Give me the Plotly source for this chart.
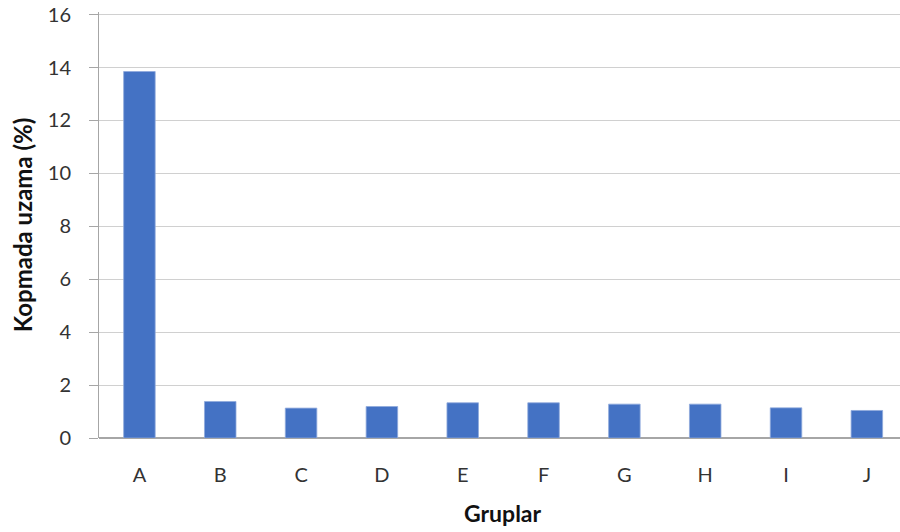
import plotly.graph_objects as go

categories = ["A", "B", "C", "D", "E", "F", "G", "H", "I", "J"]
values = [13.85, 1.38, 1.13, 1.19, 1.33, 1.33, 1.28, 1.28, 1.14, 1.04]
y_ticks = [0, 2, 4, 6, 8, 10, 12, 14, 16]

font_family = "Lato, 'Open Sans', sans-serif"

fig = go.Figure(go.Bar(
    x=list(range(len(categories))),
    y=values,
    marker=dict(color="#4472C4", line=dict(color="#8FAADC", width=0.8)),
    width=0.39,
))

fig.update_layout(
    width=900, height=532,
    margin=dict(l=99, r=0, t=12, b=94, autoexpand=False),
    paper_bgcolor="white", plot_bgcolor="white",
    showlegend=False,
    font=dict(family=font_family, color="#333333"),
    xaxis=dict(
        tickmode="array",
        tickvals=list(range(len(categories))),
        ticktext=categories,
        range=[-0.5, 9.41],
        showgrid=False,
        showline=False,
        ticks="",
        ticklabelstandoff=23,
        tickfont=dict(size=20, color="#333333"),
        zeroline=False,
        automargin=False,
    ),
    yaxis=dict(
        range=[0, 16.1],
        tickvals=y_ticks,
        showgrid=True,
        gridcolor="#D0D0D0",
        gridwidth=1,
        showline=True,
        linecolor="#A6A6A6",
        linewidth=1,
        ticks="outside",
        ticklen=9,
        tickcolor="#A6A6A6",
        ticklabelstandoff=14,
        ticklabeloverflow="allow",
        tickfont=dict(size=20, color="#333333"),
        title=dict(text="<b>Kopmada uzama (%)</b>", font=dict(size=24, color="#111111"), standoff=8),
        zeroline=True,
        zerolinecolor="#A6A6A6",
        zerolinewidth=1.5,
        automargin=False,
    ),
    annotations=[dict(
        text="<b>Gruplar</b>", x=4.5, xref="x", y=-0.176, yref="paper",
        xanchor="center", yanchor="middle", showarrow=False,
        font=dict(size=23, color="#111111", family=font_family),
    )],
)

fig.write_html(
    "out.html",
    config={"displayModeBar": False},
    post_script="document.body.style.margin='0';document.body.style.overflow='hidden';",
)
